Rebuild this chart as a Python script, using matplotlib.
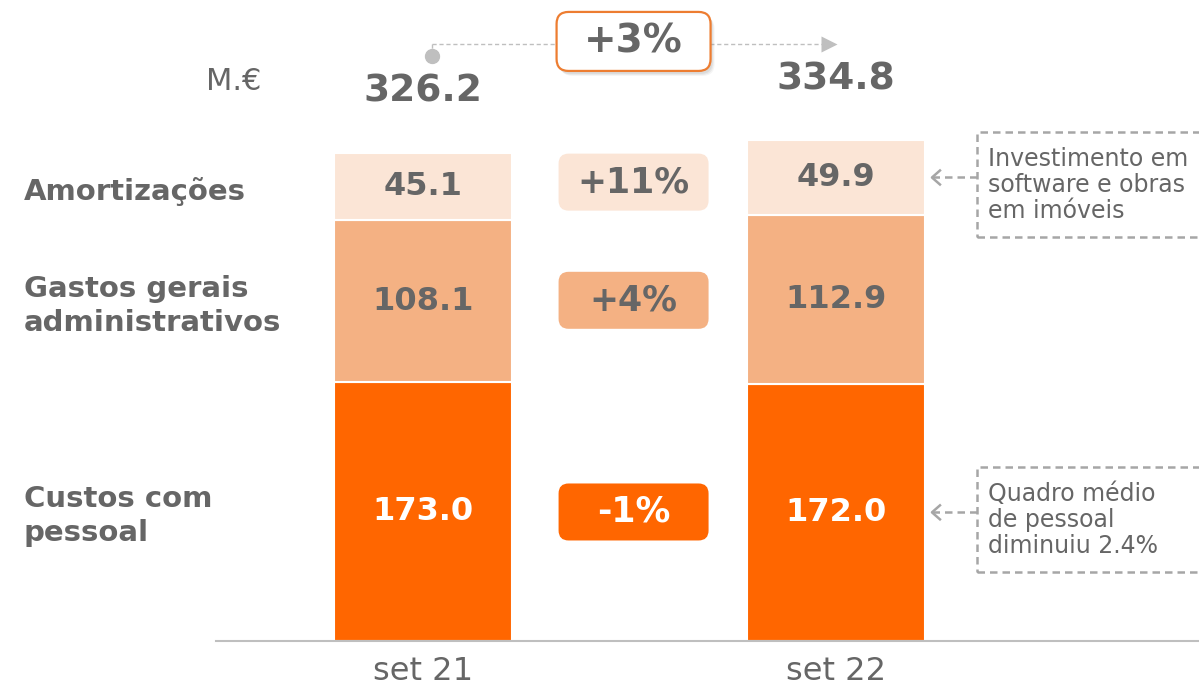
import matplotlib
matplotlib.use("Agg")
import matplotlib.pyplot as plt
import matplotlib.transforms as mtransforms
from matplotlib.patches import FancyBboxPatch, Rectangle
from matplotlib.lines import Line2D
import numpy as np

# ── Data ──────────────────────────────────────────────────────────────────────
categories = ["set 21", "set 22"]
pessoal = [173.0, 172.0]
gastos = [108.1, 112.9]
amort = [45.1, 49.9]

segment_names = ["Custos com\npessoal", "Gastos gerais\nadministrativos", "Amortizações"]
segment_changes = ["-1%", "+4%", "+11%"]
segment_notes = ["Quadro médio\nde pessoal\ndiminuiu 2.4%", None,
                 "Investimento em\nsoftware e obras\nem imóveis"]
total_change = "+3%"
unit_label = "M.€"

# ── Style ─────────────────────────────────────────────────────────────────────
W, H = 1199, 688
DARK = "#FF6600"
MID = "#F4B183"
LIGHT = "#FBE5D6"
GREY_TXT = "#666666"
GREY_LN = "#BFBFBF"
NOTE_LN = "#A6A6A6"
seg_colors = [DARK, MID, LIGHT]
val_colors = ["white", GREY_TXT, GREY_TXT]
chg_colors = ["white", GREY_TXT, GREY_TXT]

plt.rcParams["font.family"] = ["DejaVu Sans"]

fig = plt.figure(figsize=(W / 100, H / 100), dpi=100)
fig.patch.set_facecolor("white")
ax = fig.add_axes([216 / W, 47 / H, 983 / W, 641 / H])
XLIM = (-0.501, 1.879)
YLIM = (0, 428.5)
ax.set_xlim(*XLIM)
ax.set_ylim(*YLIM)


def at(x, y):
    """transform: offsets in inches (px/100) around data point (x, y)"""
    return fig.dpi_scale_trans + mtransforms.ScaledTranslation(x, y, ax.transData)


def rbox(x, y, w, h, r, fc, ec="none", lw=0, z=4):
    p = FancyBboxPatch((-w / 200, -h / 200), w / 100, h / 100,
                       boxstyle=f"round,pad=0,rounding_size={r / 100}",
                       transform=at(x, y), fc=fc, ec=ec, lw=lw,
                       clip_on=False, zorder=z)
    ax.add_patch(p)


# ── Stacked bars ──────────────────────────────────────────────────────────────
x = np.arange(len(categories))
bw = 0.431
series = [np.array(pessoal), np.array(gastos), np.array(amort)]
bottom = np.zeros(len(categories))
centers = []
for vals, col, vcol in zip(series, seg_colors, val_colors):
    ax.bar(x, vals, bw, bottom=bottom, color=col, edgecolor="white",
           linewidth=1.5, zorder=2)
    mid = bottom + vals / 2
    centers.append(mid)
    for xi, v, m in zip(x, vals, mid):
        ax.text(xi, m, f"{v:.1f}", ha="center", va="center", fontsize=23,
                fontweight="bold", color=vcol, zorder=3)
    bottom = bottom + vals
totals = bottom

# Totals above bars
for xi, t in zip(x, totals):
    ax.annotate(f"{t:.1f}", xy=(xi, t), xytext=(0, 44), textcoords="offset points",
                ha="center", va="center", fontsize=27, fontweight="bold",
                color=GREY_TXT, annotation_clip=False)

# Segment names on the left
lbl_tr = mtransforms.blended_transform_factory(fig.transFigure, ax.transData)
for name, c in zip(segment_names, centers):
    ax.text(24 / W, c[0] - 3, name, transform=lbl_tr, ha="left", va="center",
            fontsize=21, fontweight="bold", color=GREY_TXT, linespacing=1.3,
            clip_on=False)

# Change boxes between bars
xm = 0.51
for chg, c, fc, tc in zip(segment_changes, centers, seg_colors, chg_colors):
    yc = c.mean()
    rbox(xm, yc, 150, 57, 10, fc)
    ax.text(xm, yc, chg, ha="center", va="center", fontsize=25,
            fontweight="bold", color=tc, zorder=5)

# Total change bracket
ytop = totals.max() + 66
xs = x[0] + 0.022
ax.plot([xs, x[1] - 0.02], [ytop - 2, ytop - 2], ls=(0, (3, 2)), lw=1,
        color=GREY_LN, clip_on=False, zorder=1)
ax.plot([xs, xs], [ytop - 2, ytop - 10], lw=1, color=GREY_LN, ls=(0, (3, 2)),
        clip_on=False, zorder=1)
ax.plot([xs], [ytop - 10], "o", ms=10, color=GREY_LN, clip_on=False, zorder=2)
ax.plot([x[1] - 0.018], [ytop - 2], ">", ms=12, color=GREY_LN, mec="none",
        clip_on=False, zorder=2)
for k, a in enumerate([0.12, 0.10, 0.08]):
    sh = FancyBboxPatch((-77 / 100 + 0.02 + 0.01 * k, -29.5 / 100 - 0.03 - 0.01 * k),
                        1.54, 0.59, boxstyle="round,pad=0,rounding_size=0.12",
                        transform=at(xm, ytop), fc="#808080", ec="none",
                        alpha=a, clip_on=False, zorder=3)
    ax.add_patch(sh)
rbox(xm, ytop, 154, 59, 12, "white", ec="#ED7D31", lw=1.6, z=4)
ax.text(xm, ytop, total_change, ha="center", va="center", fontsize=28,
        fontweight="bold", color=GREY_TXT, zorder=5, clip_on=False)

# Unit label
fig.text(206 / W, 1 - 82 / H, unit_label, ha="left", va="center",
         fontsize=22, color=GREY_TXT)

# Notes on the right of the second bar
xr = x[1] + bw / 2
for note, c in zip(segment_notes, centers):
    if note is None:
        continue
    tr = at(xr, c[1])
    ax.add_line(Line2D([0.07, 0.52], [0, 0], lw=1.8, ls=(0, (3, 2)),
                       color=NOTE_LN, transform=tr, clip_on=False))
    ax.add_line(Line2D([0.15, 0.07, 0.15], [0.07, 0, -0.07], lw=1.8,
                       color=NOTE_LN, transform=tr, clip_on=False))
    ax.add_patch(Rectangle((0.52, -0.60), 2.72, 1.05, fill=False, lw=1.8,
                           ls=(0, (3, 2)), ec=NOTE_LN, transform=tr,
                           clip_on=False))
    ax.text(0.63, -0.075, note, transform=tr, ha="left", va="center",
            fontsize=17, color=GREY_TXT, linespacing=1.12, clip_on=False)

# ── Axes styling ──────────────────────────────────────────────────────────────
for s in ["top", "right", "left"]:
    ax.spines[s].set_visible(False)
ax.spines["bottom"].set_color(GREY_LN)
ax.spines["bottom"].set_linewidth(1.5)
ax.set_yticks([])
ax.set_xticks(x)
ax.set_xticklabels(categories, fontsize=23, color=GREY_TXT)
ax.tick_params(axis="x", length=0, pad=11)
ax.set_xlim(*XLIM)
ax.set_ylim(*YLIM)

fig.savefig("out.png", dpi=100, facecolor="white")
